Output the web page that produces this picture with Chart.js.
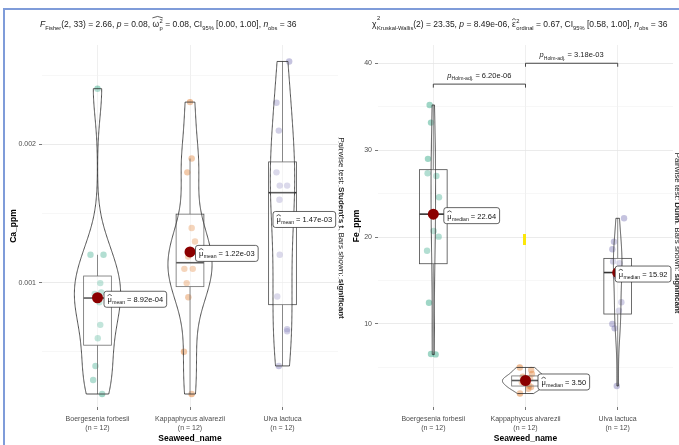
<!DOCTYPE html>
<html>
<head>
<meta charset="utf-8">
<script src="https://cdn.jsdelivr.net/npm/chart.js@4.4.1/dist/chart.umd.min.js"></script>
<style>
  html, body { margin: 0; padding: 0; background: #fff; }
  #wrap { position: relative; width: 679px; height: 445px; overflow: hidden; background: #fff; }
  canvas { position: absolute; top: 0; }
  #caChart { left: 0; }
  #feChart { left: 340px; }
  .frame { position: absolute; background: #7f9cd9; }
  .marker { position: absolute; background: #fbe70a; }
</style>
</head>
<body>
<div id="wrap">
  <canvas id="caChart" width="350" height="445" style="width:350px;height:445px"></canvas>
  <canvas id="feChart" width="339" height="445" style="width:339px;height:445px"></canvas>
  <div class="frame" style="left:3px;top:8px;width:676px;height:2px"></div>
  <div class="frame" style="left:3px;top:8px;width:2px;height:437px"></div>
  <div class="marker" style="left:523px;top:234px;width:3px;height:11px"></div>
</div>
<script>
// ---- data -------------------------------------------------------------
const categories = ['Boergesenia forbesii', 'Kappaphycus alvarezii', 'Ulva lactuca'];
const groupCounts = ['(n = 12)', '(n = 12)', '(n = 12)'];

// calcium (ppm)
const caBoergesenia = [0.002404, 0.001203, 0.001203, 0.000998, 0.00093, 0.00092, 0.00086, 0.000696, 0.000599, 0.000399, 0.000297, 0.000196];
const caKappaphycus = [0.002307, 0.001899, 0.001799, 0.001396, 0.001299, 0.00119, 0.001101, 0.001101, 0.000998, 0.000896, 0.000502, 0.000196];
const caUlva        = [0.002601, 0.002302, 0.002101, 0.001799, 0.001703, 0.001703, 0.001601, 0.001203, 0.000901, 0.000665, 0.00065, 0.000399];

// iron (ppm)
const feBoergesenia = [35.2, 33.17, 29.0, 27.34, 27.03, 24.58, 20.7, 20.05, 18.43, 12.45, 6.55, 6.5];
const feKappaphycus = [5.0, 4.7, 4.25, 3.95, 3.7, 3.55, 3.45, 3.3, 2.9, 2.75, 2.55, 2.0];
const feUlva        = [22.16, 19.47, 18.6, 17.2, 17.0, 16.34, 15.5, 12.5, 11.53, 10.0, 9.5, 2.87];

// horizontal jitter of the raw points, in category units
const caJitter = [
  [0, -0.076, 0.065, 0.03, 0.04, -0.03, 0.02, 0.03, 0.003, -0.022, -0.047, 0.05],
  [0, 0.018, -0.029, 0.018, 0.054, -0.02, -0.061, 0.03, -0.036, -0.018, -0.065, 0.018],
  [0.072, -0.065, -0.04, -0.065, -0.03, 0.05, -0.033, -0.03, -0.057, 0.05, 0.05, -0.04]
];
const feJitter = [
  [-0.04, -0.025, -0.058, -0.062, 0.033, 0.062, 0.003, 0.058, -0.068, -0.047, -0.025, 0.025],
  [-0.062, 0.062, 0.07, -0.03, 0.05, -0.01, 0.02, -0.04, 0.04, 0.06, 0.03, -0.06],
  [0.069, -0.04, -0.058, -0.05, 0.02, 0.03, -0.02, 0.04, 0.014, -0.058, -0.033, -0.01]
];

// axis ticks
const caTicks = [0.0005, 0.001, 0.0015, 0.002, 0.0025];
const caTickLabels = ['', '0.001', '', '0.002', ''];
const feTicks = [5, 10, 15, 20, 25, 30, 35, 40];
const feTickLabels = ['', '10', '', '20', '', '30', '', '40'];

// Dunn pairwise comparisons (Holm adjusted)
const fePairs = [[1, 2], [2, 3]];
const fePairP = ['6.20e-06', '3.18e-03'];
const fePairY = [37.6, 40.0];

// ---- helpers ----------------------------------------------------------
const FONT = '"Liberation Sans", Arial, Helvetica, sans-serif';
Chart.defaults.font.family = FONT;
const groupColors = ['rgba(27,158,119,0.42)', 'rgba(217,95,2,0.42)', 'rgba(117,112,179,0.42)'];

function q7(sorted, p) {
  const h = (sorted.length - 1) * p, lo = Math.floor(h), hi = Math.ceil(h);
  return sorted[lo] + (h - lo) * (sorted[hi] - sorted[lo]);
}
function summarize(a) {
  const s = [...a].sort((u, v) => u - v);
  const q1 = q7(s, 0.25), q3 = q7(s, 0.75), med = q7(s, 0.5), iqr = q3 - q1;
  const lo = s.find(v => v >= q1 - 1.5 * iqr);
  const hi = [...s].reverse().find(v => v <= q3 + 1.5 * iqr);
  const mean = a.reduce((u, v) => u + v, 0) / a.length;
  return { q1, q3, med, lo, hi, mean, min: s[0], max: s[s.length - 1] };
}
function bwNrd0(a) {
  const s = [...a].sort((u, v) => u - v);
  const m = a.reduce((u, v) => u + v, 0) / a.length;
  const sd = Math.sqrt(a.reduce((u, v) => u + (v - m) * (v - m), 0) / (a.length - 1));
  const lo = Math.min(sd, (q7(s, 0.75) - q7(s, 0.25)) / 1.34);
  return 0.9 * lo * Math.pow(a.length, -0.2);
}
function kde(a, n = 256) {
  const st = summarize(a), bw = bwNrd0(a), out = [];
  for (let i = 0; i < n; i++) {
    const yv = st.min + (st.max - st.min) * i / (n - 1);
    let d = 0;
    for (const v of a) { const z = (yv - v) / bw; d += Math.exp(-0.5 * z * z); }
    out.push([yv, d / (a.length * bw * Math.sqrt(2 * Math.PI))]);
  }
  return out;
}
function sci(v) {
  return v.toExponential(2).replace(/e([+-])(\d)$/, 'e$10$2');
}

// rich text: italics, bold, sub/superscripts and hats
function segFont(size, s) {
  return (s.i ? 'italic ' : '') + (s.b ? 'bold ' : '') + size + 'px ' + FONT;
}
function segWidth(ctx, s, size) {
  if (s.sub || s.sup) { ctx.font = segFont(size * 0.68, s); return ctx.measureText(s.t).width; }
  ctx.font = segFont(size, s);
  let w = ctx.measureText(s.t).width;
  if (s.up || s.dn) {
    ctx.font = segFont(size * 0.68, {});
    const a = s.up ? ctx.measureText(s.up).width : 0;
    const b = s.dn ? ctx.measureText(s.dn).width : 0;
    w += size * 0.06 + Math.max(a, b);
  }
  return w;
}
function richWidth(ctx, segs, size) {
  return segs.reduce((w, s) => w + segWidth(ctx, s, size), 0);
}
function drawHat(ctx, x0, x1, top, h) {
  ctx.beginPath();
  ctx.moveTo(x0, top + h);
  ctx.quadraticCurveTo((x0 + x1) / 2, top - h * 0.9, x1, top + h);
  ctx.stroke();
}
function drawRich(ctx, segs, x, y, size, align, color) {
  const total = richWidth(ctx, segs, size);
  let cx = align === 'center' ? x - total / 2 : (align === 'right' ? x - total : x);
  ctx.fillStyle = color; ctx.strokeStyle = color;
  ctx.textAlign = 'left'; ctx.textBaseline = 'alphabetic';
  for (const s of segs) {
    if (s.sub || s.sup) {
      ctx.font = segFont(size * 0.68, s);
      ctx.fillText(s.t, cx, y + (s.sub ? size * 0.3 : -size * 0.42));
      cx += ctx.measureText(s.t).width;
      continue;
    }
    ctx.font = segFont(size, s);
    const gw = ctx.measureText(s.t).width;
    ctx.fillText(s.t, cx, y);
    const tw = segWidth(ctx, s, size);
    if (s.up || s.dn) {
      ctx.font = segFont(size * 0.68, {});
      const sx = cx + gw + size * 0.06;
      if (s.up) ctx.fillText(s.up, sx, y - size * (s.high ? 0.78 : 0.48));
      if (s.dn) ctx.fillText(s.dn, sx, y + size * (s.dnY || 0.32));
    }
    if (s.hat) {
      ctx.lineWidth = 0.7;
      const hw = s.wide ? tw : gw;
      drawHat(ctx, cx, cx + hw, y - size * (s.hatY || 1.2), size * 0.18);
    }
    cx += tw;
  }
}
function roundRect(ctx, x, y, w, h, r) {
  ctx.beginPath();
  ctx.moveTo(x + r, y); ctx.lineTo(x + w - r, y); ctx.quadraticCurveTo(x + w, y, x + w, y + r);
  ctx.lineTo(x + w, y + h - r); ctx.quadraticCurveTo(x + w, y + h, x + w - r, y + h);
  ctx.lineTo(x + r, y + h); ctx.quadraticCurveTo(x, y + h, x, y + h - r);
  ctx.lineTo(x, y + r); ctx.quadraticCurveTo(x, y, x + r, y);
  ctx.closePath();
}

// violins, boxes, centrality markers, pairwise brackets, title and caption
const statLayers = {
  id: 'statLayers',
  afterDatasetsDraw(chart, args, o) {
    const { ctx, chartArea: a, scales: { x, y } } = chart;
    const dens = o.groups.map(g => kde(g));
    let maxD = 0;
    dens.forEach(d => d.forEach(p => { if (p[1] > maxD) maxD = p[1]; }));
    ctx.save();
    ctx.beginPath(); ctx.rect(a.left, a.top, a.right - a.left, a.bottom - a.top); ctx.clip();
    o.groups.forEach((g, k) => {
      const c = k + 1, st = summarize(g), px = x.getPixelForValue(c);
      const bl = x.getPixelForValue(c - 0.15), br = x.getPixelForValue(c + 0.15);
      const t = y.getPixelForValue(st.q3), b = y.getPixelForValue(st.q1), m = y.getPixelForValue(st.med);
      ctx.strokeStyle = '#4a4a4a'; ctx.lineWidth = 0.8;
      ctx.beginPath();
      ctx.moveTo(px, y.getPixelForValue(st.hi)); ctx.lineTo(px, t);
      ctx.moveTo(px, b); ctx.lineTo(px, y.getPixelForValue(st.lo));
      ctx.stroke();
      ctx.fillStyle = 'rgba(255,255,255,0.2)';
      ctx.fillRect(bl, t, br - bl, b - t);
      ctx.strokeRect(bl, t, br - bl, b - t);
      ctx.strokeStyle = '#333'; ctx.lineWidth = 1.6;
      ctx.beginPath(); ctx.moveTo(bl, m); ctx.lineTo(br, m); ctx.stroke();
      const d = dens[k];
      ctx.beginPath();
      d.forEach((p, i) => {
        const xx = x.getPixelForValue(c - p[1] / maxD * 0.25), yy = y.getPixelForValue(p[0]);
        if (i) ctx.lineTo(xx, yy); else ctx.moveTo(xx, yy);
      });
      for (let i = d.length - 1; i >= 0; i--) {
        ctx.lineTo(x.getPixelForValue(c + d[i][1] / maxD * 0.25), y.getPixelForValue(d[i][0]));
      }
      ctx.closePath();
      ctx.fillStyle = 'rgba(255,255,255,0.2)'; ctx.fill();
      ctx.strokeStyle = '#333'; ctx.lineWidth = 0.85; ctx.stroke();
    });
    ctx.restore();

    // centrality point + label
    ctx.save();
    o.groups.forEach((g, k) => {
      const st = summarize(g);
      const v = o.centre === 'mean' ? st.mean : st.med;
      const px = x.getPixelForValue(k + 1), py = y.getPixelForValue(v);
      ctx.fillStyle = '#8b0000';
      ctx.beginPath(); ctx.arc(px, py, 5.5, 0, Math.PI * 2); ctx.fill();
    });
    o.groups.forEach((g, k) => {
      const st = summarize(g);
      const v = o.centre === 'mean' ? st.mean : st.med;
      const txt = o.centre === 'mean' ? sci(v) : v.toFixed(2);
      const px = x.getPixelForValue(k + 1), py = y.getPixelForValue(v) + 1;
      const segs = [{ t: 'μ', hat: 1, hatY: 1.05, dn: o.centre, dnY: 0.25 }, { t: ' = ' + txt }];
      const size = 7.5, w = richWidth(ctx, segs, size) + 7, h = 16;
      const lx = px + o.labelShift[k];
      roundRect(ctx, lx + 0.5, py - h / 2 + 0.5, w, h, 2.5);
      ctx.fillStyle = '#fff'; ctx.fill();
      ctx.strokeStyle = '#222'; ctx.lineWidth = 0.7; ctx.stroke();
      drawRich(ctx, segs, lx + 4, py + 3.5, size, 'left', '#111');
    });

    // significance brackets
    (o.brackets || []).forEach(br => {
      const x1 = x.getPixelForValue(br.from), x2 = x.getPixelForValue(br.to);
      const yb = y.getPixelForValue(br.y), tip = 3.5;
      ctx.strokeStyle = '#333'; ctx.lineWidth = 0.9;
      ctx.beginPath();
      ctx.moveTo(x1, yb + tip); ctx.lineTo(x1, yb); ctx.lineTo(x2, yb); ctx.lineTo(x2, yb + tip);
      ctx.stroke();
      drawRich(ctx, [{ t: 'p', i: 1 }, { t: 'Holm-adj.', sub: 1 }, { t: ' = ' + br.p }],
        (x1 + x2) / 2, yb - 6, 7.5, 'center', '#222');
    });
    ctx.restore();
  },
  afterDraw(chart, args, o) {
    const ctx = chart.ctx;
    ctx.save();
    drawRich(ctx, o.title, o.titleX, 27, 8.5, 'left', '#1a1a1a');
    ctx.translate(o.captionX, o.captionY);
    ctx.rotate(Math.PI / 2);
    drawRich(ctx, o.caption, 0, 3, 8, 'center', '#222');
    ctx.restore();
    if (o.edge) {
      ctx.save();
      ctx.strokeStyle = '#d4d4d4'; ctx.lineWidth = 1; ctx.setLineDash([2, 2]);
      ctx.beginPath(); ctx.moveTo(o.edge[0], o.edge[1]); ctx.lineTo(o.edge[0], o.edge[2]); ctx.stroke();
      ctx.restore();
    }
  }
};

function makePanel(id, p) {
  const datasets = p.groups.map((g, k) => ({
    data: g.map((v, i) => ({ x: k + 1 + p.jitter[k][i], y: v })),
    pointRadius: 3.2,
    pointBackgroundColor: groupColors[k],
    pointBorderWidth: 0,
    showLine: false
  }));
  return new Chart(document.getElementById(id), {
    type: 'scatter',
    data: { datasets },
    plugins: [statLayers],
    options: {
      responsive: false,
      animation: false,
      events: [],
      layout: { padding: { left: 0, right: p.padRight, top: 45, bottom: 0 } },
      scales: {
        x: {
          type: 'linear', min: 0.4, max: 3.6,
          afterBuildTicks: s => { s.ticks = [1, 2, 3].map(v => ({ value: v })); },
          afterFit: s => { s.height = 38; },
          ticks: {
            callback: (v, i) => [categories[i], groupCounts[i]],
            color: '#4d4d4d', font: { size: 7 }, maxRotation: 0, autoSkip: false, padding: 5
          },
          grid: { color: '#ebebeb', lineWidth: 0.8, tickLength: 3, tickColor: '#555' },
          border: { display: false },
          title: { display: true, text: 'Seaweed_name', color: '#000', font: { size: 8.5, weight: 'bold' }, padding: { top: 0, bottom: 1 } }
        },
        y: {
          type: 'linear', min: p.yMin, max: p.yMax,
          afterBuildTicks: s => { s.ticks = p.ticks.map(v => ({ value: v })); },
          afterFit: s => { s.width = p.yWidth; },
          ticks: {
            callback: (v, i) => p.tickLabels[i],
            color: '#4d4d4d', font: { size: 7 }, padding: 3
          },
          grid: {
            color: c => p.tickLabels[c.index] ? '#e6e6e6' : '#f1f1f1',
            lineWidth: c => p.tickLabels[c.index] ? 0.8 : 0.6,
            tickLength: 3,
            tickColor: c => p.tickLabels[c.index] ? '#555' : 'rgba(0,0,0,0)'
          },
          border: { display: false },
          title: { display: true, text: p.yTitle, color: '#000', font: { size: 8.5, weight: 'bold' }, padding: { top: p.yTitlePad, bottom: 0 } }
        }
      },
      plugins: {
        legend: { display: false },
        tooltip: { enabled: false },
        statLayers: {
          groups: p.groups, centre: p.centre, labelShift: p.labelShift,
          brackets: p.brackets, title: p.title, titleX: p.titleX,
          caption: p.caption, captionX: p.captionX, captionY: p.captionY, edge: p.edge
        }
      }
    }
  });
}

makePanel('caChart', {
  groups: [caBoergesenia, caKappaphycus, caUlva],
  jitter: caJitter,
  ticks: caTicks, tickLabels: caTickLabels,
  yMin: 0.000102, yMax: 0.00272, yWidth: 42, yTitle: 'Ca_ppm', yTitlePad: 9,
  padRight: 12,
  centre: 'mean', labelShift: [6, 5, -10],
  title: [
    { t: 'F', i: 1 }, { t: 'Fisher', sub: 1 }, { t: '(2, 33) = 2.66, ' },
    { t: 'p', i: 1 }, { t: ' = 0.08, ' },
    { t: 'ω', hat: 1, wide: 1, hatY: 1.25, up: '2', dn: 'p' }, { t: ' = 0.08, CI' }, { t: '95%', sub: 1 },
    { t: ' [0.00, 1.00], ' }, { t: 'n', i: 1 }, { t: 'obs', sub: 1 }, { t: ' = 36' }
  ],
  titleX: 40,
  caption: [
    { t: 'Pairwise test: ' }, { t: "Student's t", b: 1 }, { t: '. Bars shown: ' }, { t: 'significant', b: 1 }
  ],
  captionX: 342, captionY: 228,
  edge: [338.5, 137, 317]
});

makePanel('feChart', {
  groups: [feBoergesenia, feKappaphycus, feUlva],
  jitter: feJitter,
  ticks: feTicks, tickLabels: feTickLabels,
  yMin: 0.45, yMax: 42.1, yWidth: 38, yTitle: 'Fe_ppm', yTitlePad: 12,
  padRight: 6,
  centre: 'median', labelShift: [10, 12, -3],
  brackets: fePairs.map((pr, i) => ({ from: pr[0], to: pr[1], y: fePairY[i], p: fePairP[i] })),
  title: [
    { t: 'χ', up: '2', dn: 'Kruskal-Wallis', high: 1 }, { t: '(2) = 23.35, ' },
    { t: 'p', i: 1 }, { t: ' = 8.49e-06, ' },
    { t: 'ε', hat: 1, hatY: 1.0, up: '2', dn: 'ordinal' }, { t: ' = 0.67, CI' }, { t: '95%', sub: 1 },
    { t: ' [0.58, 1.00], ' }, { t: 'n', i: 1 }, { t: 'obs', sub: 1 }, { t: ' = 36' }
  ],
  titleX: 32,
  caption: [
    { t: 'Pairwise test: ' }, { t: 'Dunn', b: 1 }, { t: '. Bars shown: ' }, { t: 'significant', b: 1 }
  ],
  captionX: 338, captionY: 233
});
</script>
</body>
</html>
